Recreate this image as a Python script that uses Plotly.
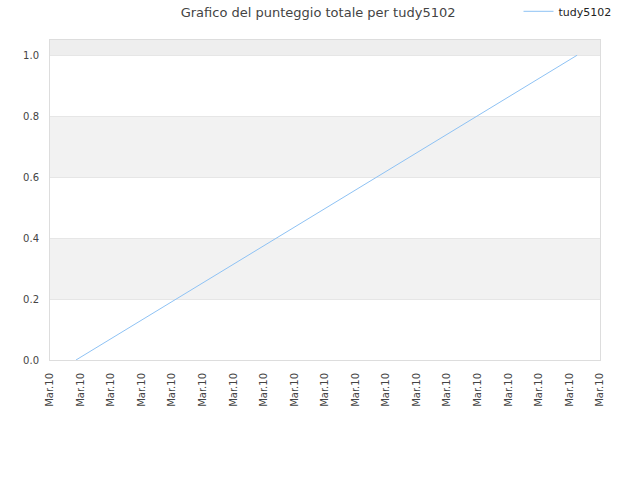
import plotly.graph_objs as go
from datetime import datetime, timedelta

# Series data
player = "tudy5102"
times = ["2024-03-10 10:25:30", "2024-03-10 18:37:30"]
scores = [0.0, 1.0]

# Axis setup
x_start = datetime(2024, 3, 10, 10, 0)
x_end = datetime(2024, 3, 10, 19, 0)
tick_vals = [x_start + timedelta(minutes=30 * i) for i in range(19)]
tick_text = ["Mar.10"] * len(tick_vals)

# Alternating horizontal bands
bands = [(0.2, 0.4, "#f2f2f2"), (0.6, 0.8, "#f2f2f2"), (1.0, 1.05, "#eeeeee")]

fig = go.Figure()

fig.add_trace(go.Scatter(
    x=times,
    y=scores,
    mode="lines",
    name=player,
    line=dict(color="#8ec2f4", width=1)
))

for y0, y1, col in bands:
    fig.add_shape(type="rect", xref="paper", yref="y", x0=0, x1=1, y0=y0, y1=y1,
                  fillcolor=col, line=dict(width=0), layer="below")

fig.update_layout(
    width=640,
    height=480,
    title=dict(text="Grafico del punteggio totale per tudy5102", x=0.497, y=0.975,
               xanchor="center", yanchor="middle",
               font=dict(family="DejaVu Sans", size=13, color="#444444")),
    font=dict(family="DejaVu Sans", size=11, color="#333333"),
    plot_bgcolor="white",
    paper_bgcolor="white",
    margin=dict(l=50, r=40, t=40, b=120, autoexpand=False),
    showlegend=True,
    legend=dict(x=1.03, y=1.135, xanchor="right", yanchor="top",
                font=dict(size=11, color="#222222"), bgcolor="rgba(0,0,0,0)",
                itemwidth=30),
    xaxis=dict(
        range=[x_start, x_end],
        tickmode="array",
        tickvals=tick_vals,
        ticktext=tick_text,
        tickangle=-90,
        showgrid=False,
        showline=True,
        linecolor="#dddddd",
        mirror=True,
        zeroline=False,
        automargin=False,
        ticklabelstandoff=8,
        tickfont=dict(size=10, color="#444444"),
    ),
    yaxis=dict(
        range=[0, 1.05],
        tickvals=[0, 0.2, 0.4, 0.6, 0.8, 1.0],
        tickformat=".1f",
        showgrid=True,
        gridcolor="#e6e6e6",
        showline=True,
        linecolor="#dddddd",
        mirror=True,
        zeroline=False,
        automargin=False,
        ticklabelstandoff=8,
        tickfont=dict(size=10, color="#444444"),
        ticks="",
    ),
)

# drop the default page margin so the figure sits at the window corner
fig.write_html("out.html", config={"displayModeBar": False},
               post_script="document.body.style.margin='0';")
